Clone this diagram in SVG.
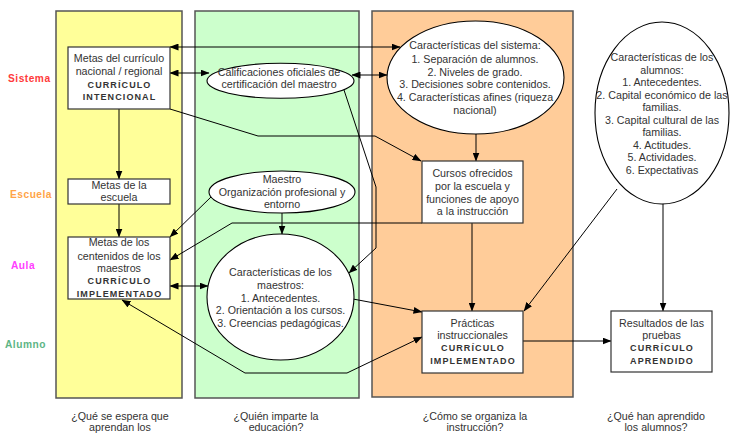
<svg xmlns="http://www.w3.org/2000/svg" width="730" height="436" viewBox="0 0 730 436">
<defs>
<marker id="ah" markerUnits="userSpaceOnUse" markerWidth="9" markerHeight="7" refX="8.5" refY="3.5" orient="auto-start-reverse"><path d="M0,0 L9,3.5 L0,7 z" fill="#000"/></marker>
<style>
.col{stroke:#555;stroke-width:1.5}
.box{fill:#fff;stroke:#333;stroke-width:1.2}
.ell{fill:#fff;stroke:#000;stroke-width:1.1}
.t{font-family:"Liberation Sans",Arial,sans-serif;font-size:10.7px;fill:#333;text-anchor:middle}
.b{font-family:"Liberation Sans",Arial,sans-serif;font-size:9px;font-weight:bold;fill:#333;text-anchor:middle;letter-spacing:1.1px}
.row{font-family:"Liberation Sans",Arial,sans-serif;font-size:10.2px;font-weight:bold;letter-spacing:0.5px}
.c{fill:none;stroke:#000;stroke-width:1}
</style>
</defs>
<rect width="730" height="436" fill="#fff"/>
<g id="columns">
<rect class="col" x="56" y="11" width="126" height="387" fill="#ffff99"/>
<rect class="col" x="195" y="11" width="164" height="387" fill="#ccffcc"/>
<rect class="col" x="372" y="11" width="201" height="386" fill="#ffcc99"/>
</g>
<g id="row-labels">
<text class="row" x="8" y="81.5" fill="#ff3b3b">Sistema</text>
<text class="row" x="10" y="197.5" fill="#ffa447">Escuela</text>
<text class="row" x="11" y="268.5" fill="#ff40ff">Aula</text>
<text class="row" x="5" y="347.5" fill="#5db585">Alumno</text>
</g>
<g id="bottom-labels">
<text class="t" x="120" y="420">¿Qué se espera que</text>
<text class="t" x="120" y="431">aprendan los</text>
<text class="t" x="276" y="420">¿Quién imparte la</text>
<text class="t" x="276" y="431">educación?</text>
<text class="t" x="475" y="420">¿Cómo se organiza la</text>
<text class="t" x="475" y="431">instrucción?</text>
<text class="t" x="656" y="420">¿Qué han aprendido</text>
<text class="t" x="656" y="431">los alumnos?</text>
</g>
<g id="connectors">
<line class="c" x1="170" y1="47" x2="400" y2="47" marker-start="url(#ah)" marker-end="url(#ah)"/>
<line class="c" x1="170" y1="73" x2="209" y2="73" marker-start="url(#ah)" marker-end="url(#ah)"/>
<line class="c" x1="352" y1="75" x2="387" y2="75" marker-start="url(#ah)" marker-end="url(#ah)"/>
<polyline class="c" points="170,109 258,136 375,136 421,161" marker-end="url(#ah)"/>
<line class="c" x1="476" y1="134" x2="476" y2="161" marker-end="url(#ah)"/>
<line class="c" x1="119" y1="109" x2="119" y2="179" marker-end="url(#ah)"/>
<line class="c" x1="119" y1="204" x2="119" y2="237" marker-end="url(#ah)"/>
<polyline class="c" points="344,90 376,187 376,248 349,273" marker-end="url(#ah)"/>
<line class="c" x1="282" y1="213" x2="282" y2="234" marker-end="url(#ah)"/>
<line class="c" x1="211" y1="197" x2="170" y2="237" marker-end="url(#ah)"/>
<polyline class="c" points="422,223 232,223 170,260" marker-end="url(#ah)"/>
<line class="c" x1="170" y1="286" x2="208" y2="286" marker-start="url(#ah)" marker-end="url(#ah)"/>
<line class="c" x1="472" y1="223" x2="472" y2="311" marker-end="url(#ah)"/>
<line class="c" x1="617" y1="189" x2="524" y2="311" marker-end="url(#ah)"/>
<line class="c" x1="663" y1="203" x2="663" y2="311" marker-end="url(#ah)"/>
<line class="c" x1="353" y1="299" x2="422" y2="312" marker-end="url(#ah)"/>
<polyline class="c" points="122,300 245,373 347,373 422,337" marker-start="url(#ah)" marker-end="url(#ah)"/>
<line class="c" x1="523" y1="341" x2="611" y2="341" marker-end="url(#ah)"/>
</g>
<g id="metas-curriculo">
<rect class="box" x="68" y="47" width="102" height="62"/>
<text class="t" x="119" y="62">Metas del currículo</text>
<text class="t" x="119" y="75">nacional / regional</text>
<text class="b" x="119.5" y="87.5">CURRÍCULO</text>
<text class="b" x="119.5" y="100">INTENCIONAL</text>
</g>
<g id="calificaciones">
<ellipse class="ell" cx="280.5" cy="80.8" rx="73.5" ry="17.5"/>
<text class="t" x="279" y="75.5">Calificaciones oficiales de</text>
<text class="t" x="279" y="88">certificación del maestro</text>
</g>
<g id="sistema">
<ellipse class="ell" cx="475.5" cy="77.5" rx="88.5" ry="56.5"/>
<text class="t" x="475" y="49">Características del sistema:</text>
<text class="t" x="475" y="62.5">1. Separación de alumnos.</text>
<text class="t" x="475" y="75.5">2. Niveles de grado.</text>
<text class="t" x="475" y="88">3. Decisiones sobre contenidos.</text>
<text class="t" x="475" y="101">4. Características afines (riqueza</text>
<text class="t" x="475" y="114">nacional)</text>
</g>
<g id="alumnos">
<ellipse class="ell" cx="662" cy="113" rx="67" ry="91"/>
<text class="t" x="662" y="61">Características de los</text>
<text class="t" x="662" y="73.5">alumnos:</text>
<text class="t" x="662" y="86">1. Antecedentes.</text>
<text class="t" x="662" y="98.5">2. Capital económico de las</text>
<text class="t" x="662" y="111">familias.</text>
<text class="t" x="662" y="123.5">3. Capital cultural de las</text>
<text class="t" x="662" y="136">familias.</text>
<text class="t" x="662" y="148.5">4. Actitudes.</text>
<text class="t" x="662" y="161">5. Actividades.</text>
<text class="t" x="662" y="173.5">6. Expectativas</text>
</g>
<g id="metas-escuela">
<rect class="box" x="68" y="179" width="102" height="25"/>
<text class="t" x="119" y="189">Metas de la</text>
<text class="t" x="119" y="201">escuela</text>
</g>
<g id="metas-contenidos">
<rect class="box" x="68" y="237" width="102" height="62"/>
<text class="t" x="119" y="246">Metas de los</text>
<text class="t" x="119" y="260">centenidos de los</text>
<text class="t" x="119" y="271.5">maestros</text>
<text class="b" x="119.5" y="283.5">CURRÍCULO</text>
<text class="b" x="119.5" y="296.5">IMPLEMENTADO</text>
</g>
<g id="maestro-org">
<ellipse class="ell" cx="282" cy="192" rx="73" ry="21"/>
<text class="t" x="282" y="183">Maestro</text>
<text class="t" x="282" y="196">Organización profesional y</text>
<text class="t" x="282" y="208">entorno</text>
</g>
<g id="caracteristicas-maestros">
<ellipse class="ell" cx="280.5" cy="297" rx="73.5" ry="63"/>
<text class="t" x="280.5" y="276">Características de los</text>
<text class="t" x="280.5" y="289">maestros:</text>
<text class="t" x="280.5" y="301.5">1. Antecedentes.</text>
<text class="t" x="280.5" y="314">2. Orientación a los cursos.</text>
<text class="t" x="280.5" y="327">3. Creencias pedagógicas.</text>
</g>
<g id="cursos">
<rect class="box" x="422" y="161" width="101" height="62"/>
<text class="t" x="472.5" y="176.5">Cursos ofrecidos</text>
<text class="t" x="472.5" y="189.5">por la escuela y</text>
<text class="t" x="472.5" y="202.5">funciones de apoyo</text>
<text class="t" x="472.5" y="214.5">a la instrucción</text>
</g>
<g id="practicas">
<rect class="box" x="422" y="311" width="101" height="62"/>
<text class="t" x="472.5" y="326.5">Prácticas</text>
<text class="t" x="472.5" y="339">instruccionales</text>
<text class="b" x="473" y="350.5">CURRÍCULO</text>
<text class="b" x="473" y="364">IMPLEMENTADO</text>
</g>
<g id="resultados">
<rect class="box" x="611" y="311" width="101" height="61"/>
<text class="t" x="661.5" y="326.5">Resultados de las</text>
<text class="t" x="661.5" y="339">pruebas</text>
<text class="b" x="662" y="350.5">CURRÍCULO</text>
<text class="b" x="662" y="363.5">APRENDIDO</text>
</g>
</svg>
